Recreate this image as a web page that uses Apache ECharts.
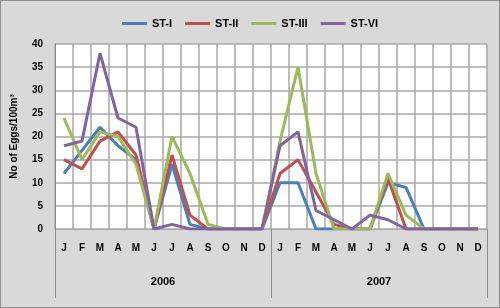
<!DOCTYPE html>
<html>
<head>
<meta charset="utf-8">
<script src="https://cdn.jsdelivr.net/npm/echarts@6/dist/echarts.min.js"></script>
<style>
  html, body { margin: 0; padding: 0; background: #fff; }
  #chart { width: 500px; height: 308px; box-sizing: border-box; border: 1px solid #8f8f8f; background: #d9d9d9; }
</style>
</head>
<body>
<div id="chart"></div>
<script>
// month labels for the two years
const months = ['J', 'F', 'M', 'A', 'M', 'J', 'J', 'A', 'S', 'O', 'N', 'D',
                'J', 'F', 'M', 'A', 'M', 'J', 'J', 'A', 'S', 'O', 'N', 'D']
const years = ['2006', '2007']

// No of eggs / 100 m3 per station
const stI   = [12, 17, 22, 18, 15, 0, 14, 1, 0, 0, 0, 0, 10, 10, 0, 0, 0, 0, 10, 9, 0, 0, 0, 0]
const stII  = [15, 13, 19, 21, 16, 0, 16, 3, 0, 0, 0, 0, 12, 15, 8, 1, 0, 0, 11, 0, 0, 0, 0, 0]
const stIII = [24, 15, 21, 20, 14, 0, 20, 12, 1, 0, 0, 0, 19, 35, 12, 0, 0, 0, 12, 3, 0, 0, 0, 0]
const stVI  = [18, 19, 38, 24, 22, 0, 1, 0, 0, 0, 0, 0, 18, 21, 4, 2, 0, 3, 2, 0, 0, 0, 0, 0]

const font = 'Liberation Sans'
const gridColor = '#a9a9a9'

const chart = echarts.init(document.getElementById('chart'))

const makeSeries = (name, data, color) => ({
  name,
  type: 'line',
  data,
  symbol: 'none',
  lineStyle: { color, width: 3 },
  itemStyle: { color }
})

chart.setOption({
  animation: false,
  textStyle: { fontFamily: font },
  legend: {
    top: 12,
    left: 'center',
    icon: 'rect',
    itemWidth: 25,
    itemHeight: 3,
    itemGap: 13,
    textStyle: { fontFamily: font, fontWeight: 'bold', fontSize: 11, color: '#000' },
    data: ['ST-I', 'ST-II', 'ST-III', 'ST-VI']
  },
  grid: {
    left: 52,
    right: 12,
    top: 43,
    bottom: 78,
    show: true,
    backgroundColor: '#fff',
    borderWidth: 0
  },
  xAxis: [
    {
      type: 'category',
      data: months,
      boundaryGap: true,
      axisLine: { show: true, lineStyle: { color: gridColor, width: 1 } },
      axisTick: { show: false },
      splitLine: { show: true, interval: 0, lineStyle: { color: gridColor, width: 1.5 } },
      axisLabel: { interval: 0, margin: 14, fontSize: 10, fontWeight: 'bold', color: '#000', fontFamily: font }
    },
    {
      type: 'category',
      data: years,
      position: 'bottom',
      boundaryGap: true,
      axisLine: { show: false },
      axisTick: { show: true, interval: 0, length: 69, lineStyle: { color: '#8c8c8c', width: 1 } },
      splitLine: { show: false },
      axisLabel: { interval: 0, margin: 47, fontSize: 11, fontWeight: 'bold', color: '#000', fontFamily: font }
    }
  ],
  yAxis: {
    type: 'value',
    min: 0,
    max: 40,
    interval: 5,
    name: 'No of Eggs/100m³',
    nameLocation: 'middle',
    nameGap: 36,
    nameTextStyle: { fontSize: 10, fontWeight: 'bold', color: '#000', fontFamily: font },
    axisLine: { show: true, lineStyle: { color: '#8c8c8c', width: 1 } },
    axisTick: { show: false },
    splitLine: { show: true, lineStyle: { color: gridColor, width: 1.5 } },
    axisLabel: { margin: 12, fontSize: 10, fontWeight: 'bold', color: '#000', fontFamily: font }
  },
  series: [
    makeSeries('ST-I', stI, '#4a7ebb'),
    makeSeries('ST-II', stII, '#c0504d'),
    makeSeries('ST-III', stIII, '#9bbb59'),
    makeSeries('ST-VI', stVI, '#8064a2')
  ]
})
</script>
</body>
</html>
